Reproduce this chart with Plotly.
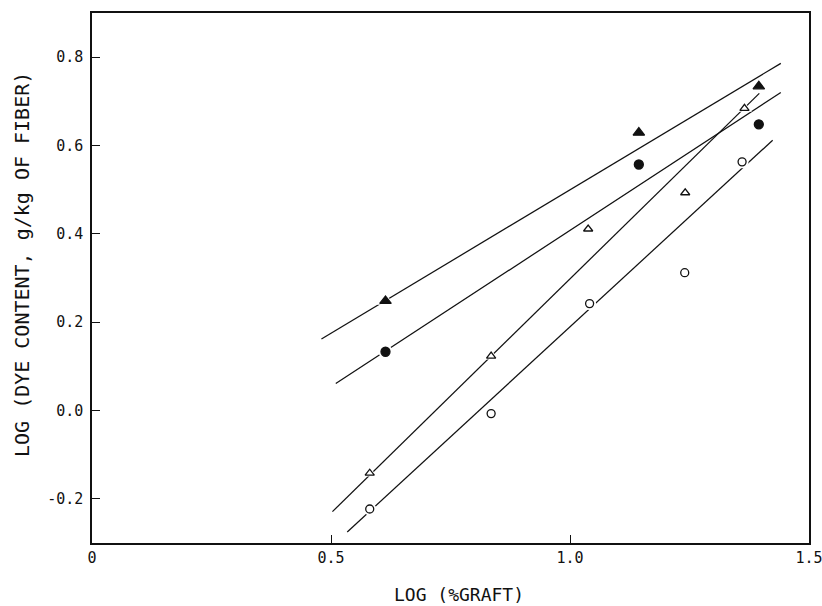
import plotly.graph_objects as go

# Log(% graft) positions and log(dye content) values for the four dye series
x_filled = [0.614, 1.144, 1.395]
y_filled_triangle = [0.248, 0.629, 0.734]
y_filled_circle = [0.133, 0.557, 0.648]

x_open_triangle = [0.581, 0.835, 1.038, 1.241, 1.365]
y_open_triangle = [-0.142, 0.123, 0.411, 0.493, 0.684]

x_open_circle = [0.581, 0.835, 1.041, 1.240, 1.360]
y_open_circle = [-0.223, -0.007, 0.242, 0.312, 0.563]

# End points of the straight-line fits drawn through each series
fit_filled_triangle_x = [0.480, 1.441]
fit_filled_triangle_y = [0.162, 0.786]
fit_filled_circle_x = [0.510, 1.441]
fit_filled_circle_y = [0.061, 0.720]
fit_open_triangle_x = [0.503, 1.396]
fit_open_triangle_y = [-0.229, 0.718]
fit_open_circle_x = [0.534, 1.424]
fit_open_circle_y = [-0.275, 0.612]

# Tick values and labels
x_tickvals = [0, 0.5, 1.0, 1.5]
x_ticktext = ["0", "0.5", "1.0", "1.5"]
y_tickvals = [-0.2, 0.0, 0.2, 0.4, 0.6, 0.8]
y_ticktext = ["-0.2", "0.0", "0.2", "0.4", "0.6", "0.8"]

FONT = "DejaVu Sans Mono"
INK = "#111111"

fig = go.Figure()

# Fitted lines
for fx, fy in [
    (fit_filled_triangle_x, fit_filled_triangle_y),
    (fit_filled_circle_x, fit_filled_circle_y),
    (fit_open_triangle_x, fit_open_triangle_y),
    (fit_open_circle_x, fit_open_circle_y),
]:
    fig.add_trace(go.Scatter(x=fx, y=fy, mode="lines",
                             line=dict(color=INK, width=1.25),
                             showlegend=False, hoverinfo="skip"))

# Series: (x, y, symbol, fill, size)
series = [
    (x_filled, y_filled_triangle, "triangle-up", INK, 10),
    (x_filled, y_filled_circle, "circle", INK, 9),
    (x_open_triangle, y_open_triangle, "triangle-up", "white", 8),
    (x_open_circle, y_open_circle, "circle", "white", 8),
]

# White halo behind each marker so the fit line breaks around it
for sx, sy, sym, fill, size in series:
    fig.add_trace(go.Scatter(x=sx, y=sy, mode="markers",
                             marker=dict(symbol=sym, size=size + 5, color="white",
                                         line=dict(width=0)),
                             showlegend=False, hoverinfo="skip"))

for sx, sy, sym, fill, size in series:
    fig.add_trace(go.Scatter(x=sx, y=sy, mode="markers",
                             marker=dict(symbol=sym, size=size, color=fill,
                                         line=dict(color=INK, width=1.3)),
                             showlegend=False))

axis_common = dict(
    showgrid=False, zeroline=False, showline=True, mirror=True,
    linecolor=INK, linewidth=1.5, ticks="inside", ticklen=8,
    tickcolor=INK, tickwidth=1.2, automargin=False,
    ticklabeloverflow="allow",
    tickfont=dict(family=FONT, size=15, color=INK),
)

fig.update_layout(
    width=822, height=606,
    margin=dict(l=92, r=13, t=13, b=63),
    paper_bgcolor="white", plot_bgcolor="white",
    font=dict(family=FONT, color=INK),
    xaxis=dict(range=[0, 1.5], tickvals=x_tickvals, ticktext=x_ticktext,
               **axis_common),
    yaxis=dict(range=[-0.3, 0.9], tickvals=y_tickvals, ticktext=y_ticktext,
               ticklabelstandoff=4, **axis_common),
    annotations=[
        dict(text="LOG (%GRAFT)", xref="paper", yref="paper",
             x=0.512, y=-0.097, xanchor="center", yanchor="middle",
             showarrow=False, font=dict(family=FONT, size=18, color=INK)),
        dict(text="LOG (DYE CONTENT, g/kg OF FIBER)", xref="paper", yref="paper",
             x=-0.0976, y=0.5245, xanchor="center", yanchor="middle",
             textangle=-90, showarrow=False,
             font=dict(family=FONT, size=20, color=INK)),
    ],
)

fig.write_html("out.html")
